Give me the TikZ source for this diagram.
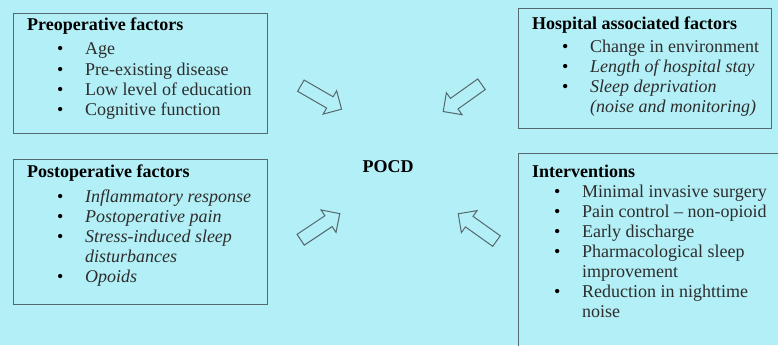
\documentclass[tikz,border=0pt]{standalone}
\usepackage{fontspec}
\setmainfont{Liberation Serif}
\usetikzlibrary{shapes.arrows}
\definecolor{fondo}{RGB}{179,239,246}
\definecolor{borde}{RGB}{85,105,110}
\definecolor{letra}{RGB}{45,45,45}
\newcommand{\punto}[2][30pt]{\hspace*{#1}\makebox[28pt][l]{\textcolor{black}{\textbullet}}#2}
\newcommand{\sigue}[2][58pt]{\hspace*{#1}#2}
\newcommand{\titulo}[1]{\textcolor{black}{\textbf{#1}}}

\begin{document}
\begin{tikzpicture}[x=1pt, y=-1pt,
    caja/.style={draw=borde, line width=1.3pt, rectangle, anchor=north west, inner sep=0pt},
    texto/.style={anchor=base west, inner sep=0pt, text=letra, font=\fontsize{18}{20}\selectfont},
    flecha/.style={draw=borde, line width=1pt, single arrow, minimum height=47pt, inner sep=6pt, single arrow head extend=7pt}]
            \useasboundingbox (0,0) rectangle (778,345);
            \clip (0,0) rectangle (778,345);
            \fill[fondo] (0,0) rectangle (778,345);

            % Cajas
            \node[caja, minimum width=254pt, minimum height=120pt] (pre) at (13,13) {};
            \node[caja, minimum width=253.5pt, minimum height=120pt] (hos) at (517.5,8) {};
            \node[caja, minimum width=254pt, minimum height=145pt] (post) at (13,159) {};
            \node[caja, minimum width=300pt, minimum height=250pt] (int) at (517.5,153) {};

            % Textos
            \node[texto] (preT) at (27,31) {\begin{tabular}[t]{@{}l@{}}
                \titulo{Preoperative factors}\\[4pt]
                \punto{Age}\\
                \punto{Pre-existing disease}\\
                \punto{Low level of education}\\
                \punto{Cognitive function}
            \end{tabular}};
            \node[texto] (hosT) at (532,30) {\begin{tabular}[t]{@{}l@{}}
                \titulo{Hospital associated factors}\\[3pt]
                \punto{Change in environment}\\
                \punto{\itshape Length of hospital stay}\\
                \punto{\itshape Sleep deprivation}\\
                \sigue{\itshape (noise and monitoring)}
            \end{tabular}};
            \node[texto] (postT) at (27,177) {\begin{tabular}[t]{@{}l@{}}
                \titulo{Postoperative factors}\\[5pt]
                \punto{\itshape Inflammatory response}\\
                \punto{\itshape Postoperative pain}\\
                \punto{\itshape Stress-induced sleep}\\
                \sigue{\itshape disturbances}\\
                \punto{\itshape Opoids}
            \end{tabular}};
            \node[texto] (intT) at (532,177) {\begin{tabular}[t]{@{}l@{}}
                \titulo{Interventions}\\
                \punto[22pt]{Minimal invasive surgery}\\
                \punto[22pt]{Pain control -- non-opioid}\\
                \punto[22pt]{Early discharge}\\
                \punto[22pt]{Pharmacological sleep}\\
                \sigue[50pt]{improvement}\\
                \punto[22pt]{Reduction in nighttime}\\
                \sigue[50pt]{noise}
            \end{tabular}};
            \node[texto, anchor=center, text=black] (pocd) at (388,167) {\textbf{POCD}};

            % Flechas
            \node[flecha, rotate=-30] (fPre) at (318.4,95.8) {};
            \node[flecha, rotate=-144.5] (fHos) at (465,96) {};
            \node[flecha, rotate=33.7] (fPost) at (317.5,228.5) {};
            \node[flecha, rotate=144.5] (fInt) at (480,229.3) {};
          \end{tikzpicture}
\end{document}
